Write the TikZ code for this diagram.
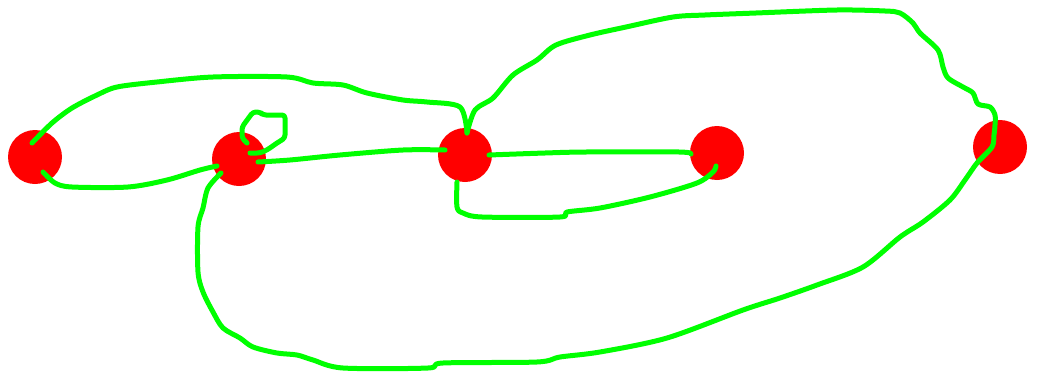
\documentclass[tikz,border=0pt]{standalone}
\begin{document}
\begin{tikzpicture}[x=1pt,y=-1pt,
  dot/.style={circle,fill=red,draw=none,minimum size=54pt,inner sep=0pt},
  wire/.style={draw={rgb,255:red,0;green,255;blue,0},line width=5pt,line cap=round,line join=round}]
\useasboundingbox (0,0) rectangle (1037,375);
\node[dot] (A) at (35,157) {};
\node[dot] (B) at (239,159) {};
\node[dot] (C) at (465,155) {};
\node[dot] (D) at (717,153) {};
\node[dot] (E) at (1000,147) {};
% endpoints inside the dots
\coordinate (a1) at (32,143);
\coordinate (a2) at (43,172);
\coordinate (b1) at (217,166);
\coordinate (b2) at (221,173);
\coordinate (b3) at (247,143);
\coordinate (b4) at (250,153);
\coordinate (b5) at (258,162);
\coordinate (c1) at (467,133);
\coordinate (c2) at (445,150);
\coordinate (c3) at (489,155);
\coordinate (c4) at (457,182);
\coordinate (d1) at (691,154);
\coordinate (d2) at (716,166);
\coordinate (e1) at (995,125);
% A upper arc to C
\draw[wire] plot[smooth,tension=0.5] coordinates {(a1) (52,123) (72,108) (97,95) (117,87) (157,82) (213,77) (287,77) (313,83) (343,85) (367,93) (403,100) (427,102) (460,107) (c1)};
% C top -> big arc -> E -> lower arc -> B
\draw[wire] plot[smooth,tension=0.5] coordinates {(c1) (475,110) (493,98) (513,75) (537,60) (556,45) (590,35) (626,27) (673,17) (705,15) (756,13) (837,10) (885,11) (900,13) (913,23) (920,33) (938,50) (943,67) (948,78) (963,87) (973,93) (978,104) (990,107) (995,115) (e1) (994,135) (992,147) (977,163) (965,180) (950,200) (923,222) (900,237) (863,267) (817,285) (780,298) (743,310) (667,338) (600,352) (560,357) (537,362) (443,363) (428,368) (343,368) (313,360) (297,355) (277,353) (253,347) (240,338) (223,328) (213,312) (203,292) (198,272) (198,227) (203,208) (208,188) (b2)};
% A lower to B
\draw[wire] plot[smooth,tension=0.5] coordinates {(a2) (55,183) (72,187) (128,187) (167,180) (200,170) (b1)};
% small loop at B
\draw[wire,rounded corners=3pt] (b3) -- (242,138) -- (242,127) -- (253,112) -- (260,112) -- (263,115) -- (285,115) -- (285,138) -- (277,143) -- (267,150) -- (260,153) -- (b4);
% B to C
\draw[wire] plot[smooth,tension=0.5] coordinates {(b5) (290,160) (340,155) (403,150) (c2)};
% C to D
\draw[wire] plot[smooth,tension=0.5] coordinates {(c3) (545,153) (586,152) (679,152) (d1)};
% C lower to D
\draw[wire] plot[smooth,tension=0.5] coordinates {(c4) (457,207) (463,213) (482,217) (560,217) (567,212) (600,208) (650,197) (697,183) (713,172) (d2)};
\end{tikzpicture}
\end{document}
